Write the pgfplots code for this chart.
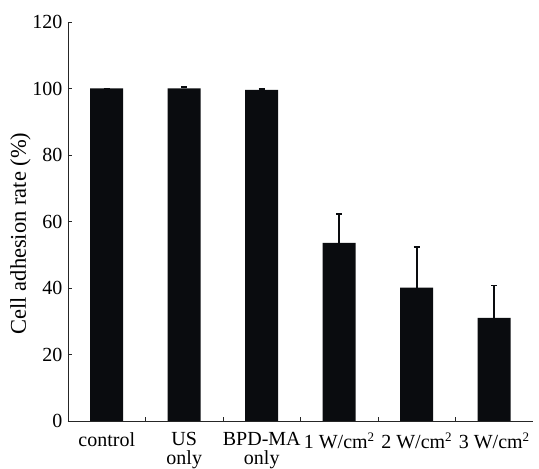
\documentclass[border=0pt]{standalone}
\usepackage{fontspec}
\setmainfont{Liberation Serif}
\usepackage{pgfplots}
\pgfplotsset{compat=1.18}
\definecolor{Bar}{HTML}{0A0C0F}
\newcommand{\sq}{\textsuperscript{\fontsize{13}{13}\selectfont 2}}

\begin{document}
\begin{tikzpicture}
\begin{axis}[
  at={(0,0)},anchor=south west,
  scale only axis,width=465pt,height=399pt,
  xmin=-0.5,xmax=5.5,ymin=0,ymax=120,
  axis x line=bottom,axis y line=left,
  axis line style={-,line width=0.9pt,draw=black!85},
  xtick={0,...,5},
  xticklabels={control,US\\only,BPD-MA\\only,1 W/cm\sq,2 W/cm\sq,3 W/cm\sq},
  minor xtick={0.5,1.5,2.5,3.5,4.5},
  major x tick style={draw=none},
  minor tick length=4pt,
  ytick={0,20,...,120},
  major tick length=4pt,
  tick align=inside,
  tick style={line width=0.8pt,black!85},
  /pgf/number format/assume math mode=true,
  tick label style={font=\fontsize{20}{18.5}\selectfont},
  xticklabel style={align=center,anchor=north,yshift=-8pt},
  yticklabel style={xshift=-2pt},
  ylabel={Cell adhesion rate (\%)},
  ylabel style={font=\fontsize{22.5}{24}\selectfont,at={(ticklabel cs:0.47)},anchor=south,yshift=-5pt},
  clip=false
]
\addplot[ybar,bar width=33pt,fill=Bar,draw=none,
  error bars/.cd,y dir=plus,y explicit,
  error bar style={line width=1.6pt,Bar},
  error mark options={rotate=90,mark size=3pt,line width=1.6pt,Bar}]
coordinates {
  (0,100) +- (0,0)
  (1,100) +- (0,0.4)
  (2,99.6) +- (0,0.3)
  (3,53.6) +- (0,8.7)
  (4,40.1) +- (0,12.3)
  (5,31.0) +- (0,9.7)
};
\end{axis}
\pgfresetboundingbox
\path (-68pt,-48pt) rectangle (471pt,421pt);
\end{tikzpicture}
\end{document}
